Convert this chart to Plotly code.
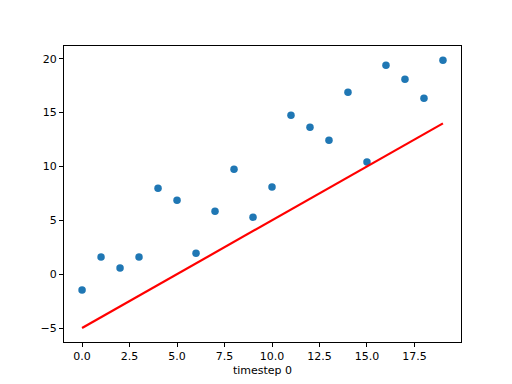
import plotly.graph_objects as go

timesteps = list(range(20))
observed = [-1.48, 1.58, 0.56, 1.58, 7.98, 6.86, 1.95, 5.84, 9.74, 5.29,
            8.1, 14.75, 13.64, 12.43, 16.88, 10.42, 19.39, 18.09, 16.33, 19.85]
line_x = [0, 19]
line_y = [-5, 14]
x_ticks = [0, 2.5, 5, 7.5, 10, 12.5, 15, 17.5]
x_tick_labels = ["0.0", "2.5", "5.0", "7.5", "10.0", "12.5", "15.0", "17.5"]
y_ticks = [-5, 0, 5, 10, 15, 20]
y_tick_labels = ["−5", "0", "5", "10", "15", "20"]

fig = go.Figure()
fig.add_trace(go.Scatter(x=timesteps, y=observed, mode="markers",
                         marker=dict(color="#1f77b4", size=7.5, line=dict(width=0)),
                         showlegend=False))
fig.add_trace(go.Scatter(x=line_x, y=line_y, mode="lines",
                         line=dict(color="red", width=2.2), showlegend=False))

axis_common = dict(showgrid=False, zeroline=False, showline=True, mirror=True,
                   linecolor="black", linewidth=1, ticks="outside", ticklen=4,
                   tickwidth=1, tickcolor="black",
                   tickfont=dict(family="DejaVu Sans", size=11, color="black"))

fig.update_xaxes(range=[-0.95, 19.95], tickvals=x_ticks, ticktext=x_tick_labels,
                 title=dict(text="timestep 0", standoff=4,
                            font=dict(family="DejaVu Sans", size=11, color="black")),
                 **axis_common)
fig.update_yaxes(range=[-6.3, 21.18], tickvals=y_ticks, ticktext=y_tick_labels,
                 **axis_common)

# page body has an 8px default margin, so shift the plot area up/left by 8px
fig.update_layout(width=512, height=384, plot_bgcolor="white", paper_bgcolor="white",
                  margin=dict(l=56, r=59, t=38, b=50))

fig.write_html("out.html")
